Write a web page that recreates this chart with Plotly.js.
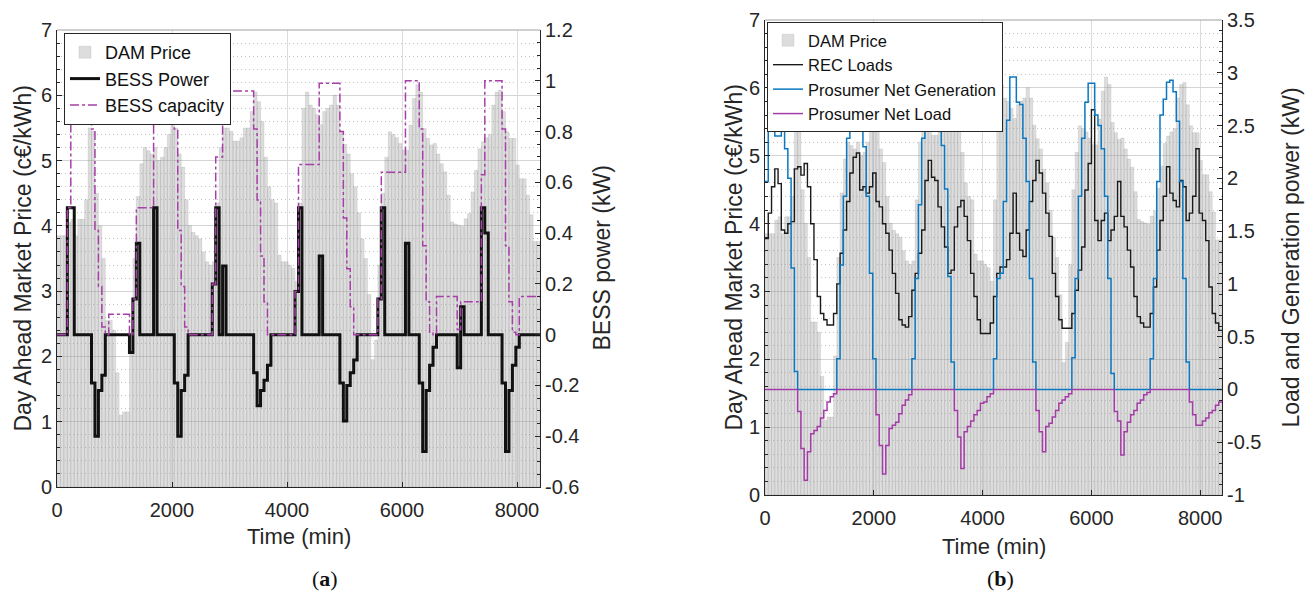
<!DOCTYPE html>
<html>
<head>
<meta charset="utf-8">
<script src="https://cdn.plot.ly/plotly-3.0.1.min.js"></script>
<style>html,body{margin:0;padding:0;background:#fff;}#chart{width:1305px;height:596px;}</style>
</head>
<body>
<div id="chart"></div>
<script>
// ---------------- DATA (hourly, 140 h = 8400 min) ----------------
// Day Ahead Market price, c€/kWh
const priceCents = [
  3.85,3.85,3.85,4.05,4.1,3.85,4.1,4.1,4.4,5.5,5.45,4.5,4.0,3.5,2.55,2.55,2.4,1.75,1.1,1.15,1.15,2.05,3.5,4.45,
  4.95,5.2,5.15,5.1,5.2,5.0,5.05,5.2,5.4,5.7,5.5,5.1,4.9,4.4,4.0,3.9,3.85,3.8,3.6,3.45,3.4,3.45,4.35,5.2,
  5.5,5.5,5.45,5.3,5.3,5.35,5.5,5.5,5.75,6.05,5.9,5.6,5.05,4.6,4.4,4.35,3.55,3.45,3.45,3.4,3.35,3.15,4.35,5.8,
  6.05,5.85,5.8,5.7,5.55,5.75,5.8,5.85,6.0,5.85,5.45,5.25,5.1,4.8,4.6,4.2,3.8,3.5,2.95,1.95,2.25,3.4,4.5,5.05,
  5.44,5.4,5.35,5.26,5.16,5.16,5.54,5.95,6.16,6.05,5.49,5.34,5.24,5.26,5.1,4.95,4.83,4.47,4.06,4.03,4.01,3.99,4.11,4.19,
  4.52,4.85,5.18,5.29,5.35,5.4,5.85,6.05,6.08,5.75,5.44,5.34,5.34,4.93,4.72,4.72,4.47,4.17,3.76,3.76
];
// BESS power, kW
const bessPower = [
  0,0,0,0.5,0.5,0,0,0,0,0,-0.19,-0.40,-0.22,-0.16,0,0,0,0,0,0,0,-0.07,0.14,0.36,
  0,0,0,0,0.5,0,0,0,0,0,-0.19,-0.40,-0.22,-0.16,0,0,0,0,0,0,0,0.2,0.5,0,
  0.27,0,0,0,0,0,0,0,0,-0.15,-0.28,-0.22,-0.18,-0.12,0,0,0,0,0,0,0,0.17,0.5,0,
  0,0,0,0,0.31,0,0,0,0,0,-0.19,-0.34,-0.2,-0.15,-0.1,0,0,0,0,0,0,0.14,0.5,0,0,
  0,0,0,0,0.36,0,0,0,-0.19,-0.46,-0.22,-0.12,-0.05,0,0,0,0,0,0,-0.13,0.11,0,0,
  0,0,0,0.5,0.4,0,0,0,0,-0.19,-0.46,-0.22,-0.12,-0.05,0,0,0,0,0,0
];
// BESS capacity (stored energy), on the BESS axis
const bessCapacity = [
  0,0,0,0.5,1.0,1.0,1.0,1.0,1.0,1.0,0.81,0.41,0.19,0.03,0,0.08,0.08,0.08,0.08,0.08,0.08,0,0.14,0.5,
  0.5,0.5,0.5,0.5,1.0,1.0,1.0,1.0,1.0,1.0,0.81,0.41,0.19,0.03,0,0,0,0,0,0,0,0.2,0.7,0.7,
  0.96,0.96,0.96,0.96,0.96,0.96,0.96,0.96,0.96,0.81,0.53,0.31,0.13,0,0,0,0,0,0,0,0,0.17,0.67,0.67,
  0.67,0.67,0.67,0.67,0.99,0.99,0.99,0.99,0.99,0.99,0.8,0.46,0.26,0.11,0,0,0,0,0,0,0,0.14,0.64,0.64,
  0.64,0.64,0.64,0.64,0.64,1.0,1.0,1.0,1.0,0.81,0.35,0.13,0.01,0,0.15,0.15,0.15,0.15,0.15,0.15,0.02,0.13,0.13,0.13,
  0.13,0.13,0.13,0.63,1.0,1.0,1.0,1.0,1.0,0.81,0.35,0.13,0.01,0,0.15,0.15,0.15,0.15,0.15,0.15
];
// REC loads, kW
const recLoads = [
  1.43,1.67,1.92,2.09,1.95,1.51,1.48,1.57,1.59,2.09,2.11,2.03,2.14,1.92,1.57,1.23,0.88,0.72,0.66,0.61,0.61,0.72,1.0,1.29,
  1.51,1.78,2.05,2.2,2.24,1.89,1.92,1.86,1.92,2.05,1.78,1.73,1.57,1.48,1.32,1.1,0.91,0.66,0.61,0.59,0.69,0.94,1.1,1.29,
  1.51,1.98,2.17,2.01,1.98,1.73,1.54,1.35,1.1,1.13,1.54,1.73,1.79,1.64,1.41,1.1,0.88,0.66,0.53,0.53,0.53,0.63,0.88,1.1,
  1.16,1.16,1.23,1.48,1.86,1.48,1.32,1.26,1.51,1.78,1.98,2.17,2.05,1.86,1.67,1.45,1.1,0.88,0.66,0.58,0.58,0.58,0.72,0.94,
  1.13,1.35,1.89,2.14,2.65,1.6,1.41,1.6,1.67,1.41,1.51,1.64,1.97,1.64,1.54,1.32,1.16,0.88,0.69,0.63,0.59,0.59,0.72,0.97,
  1.32,1.6,1.83,2.11,1.86,1.79,1.73,1.98,1.92,1.6,1.67,1.83,2.28,1.67,1.6,1.41,0.97,0.72,0.63,0.56
];
// Prosumer net generation, kW
const netGeneration = [
  1.97,2.7,2.7,2.4,2.4,2.55,2.28,2.0,1.15,0.17,0,0,0,0,0,0,0,0,0,0,0,0,0.29,1.18,
  1.83,2.38,2.75,2.85,2.75,2.6,2.3,1.83,1.1,0.29,0,0,0,0,0,0,0,0,0,0,0,0.29,1.05,1.75,
  2.38,2.75,2.85,2.9,2.85,2.7,2.31,1.9,1.07,0.26,0,0,0,0,0,0,0,0,0,0,0,0,0.29,1.05,
  1.1,1.78,2.55,2.96,2.96,2.72,2.7,2.38,1.97,1.05,0.26,0,0,0,0,0,0,0,0,0,0,0,0.3,1.05,
  1.83,2.38,2.72,2.9,2.9,2.6,2.5,2.28,1.83,1.05,0.15,0,0,0,0,0,0,0,0,0,0,0,0.29,1.05,
  1.97,2.6,2.75,2.91,2.93,2.82,2.54,1.97,1.05,0.26,0,0,0,0,0,0,0,0,0,0
];
// Prosumer net load, kW
const netLoad = [
  0,0,0,0,0,0,0,0,0,0,-0.21,-0.56,-0.86,-0.59,-0.42,-0.39,-0.35,-0.27,-0.2,-0.12,-0.07,-0.04,0,0,
  0,0,0,0,0,0,0,0,0,0,-0.24,-0.53,-0.8,-0.53,-0.37,-0.34,-0.31,-0.23,-0.15,-0.1,-0.05,0,0,0,
  0,0,0,0,0,0,0,0,0,0,-0.2,-0.45,-0.75,-0.4,-0.35,-0.3,-0.24,-0.2,-0.13,-0.12,-0.07,-0.04,0,0,
  0,0,0,0,0,0,0,0,0,0,0,-0.2,-0.4,-0.59,-0.35,-0.32,-0.26,-0.2,-0.13,-0.1,-0.07,-0.04,0,0,
  0,0,0,0,0,0,0,0,0,0,0,-0.21,-0.3,-0.62,-0.4,-0.31,-0.24,-0.2,-0.13,-0.1,-0.05,-0.03,0,0,
  0,0,0,0,0,0,0,0,0,0,-0.12,-0.24,-0.34,-0.34,-0.3,-0.27,-0.22,-0.2,-0.15,-0.12
];
// tick values / labels
const timeTicks = [0, 2000, 4000, 6000, 8000];
const priceTicks = [0, 1, 2, 3, 4, 5, 6, 7];
const bessTickVals = [-0.6, -0.4, -0.2, 0, 0.2, 0.4, 0.6, 0.8, 1, 1.2];
const bessTickText = ['-0.6', '-0.4', '-0.2', '0', '0.2', '0.4', '0.6', '0.8', '1', '1.2'];
const powerTickVals = [-1, -0.5, 0, 0.5, 1, 1.5, 2, 2.5, 3, 3.5];
const powerTickText = ['-1', '-0.5', '0', '0.5', '1', '1.5', '2', '2.5', '3', '3.5'];

// ---------------- BUILD ----------------
const W = 1305, H = 596;
const fx = p => p / W;
const fy = p => 1 - p / H;
const step = 60;
const timeMin = priceCents.map((_, i) => i * step);
const barX = timeMin.map(t => t + step / 2);
const stepT = timeMin.concat([timeMin.length * step]);
const stepY = arr => arr.concat([arr[arr.length - 1]]);
const FONT = '"Liberation Sans", Arial, Helvetica, sans-serif';
const TXT = '#262626';

const barStyle = {
  type: 'bar', width: step, name: 'DAM Price',
  marker: { color: 'rgba(160,160,160,0.36)', line: { color: 'rgba(120,120,120,0.3)', width: 0.5 } },
  hoverinfo: 'skip'
};

const traces = [
  Object.assign({}, barStyle, { x: barX, y: priceCents, xaxis: 'x', yaxis: 'y', legend: 'legend' }),
  { type: 'scatter', mode: 'lines', name: 'BESS Power', x: stepT, y: stepY(bessPower), xaxis: 'x', yaxis: 'y2',
    line: { shape: 'hv', color: '#111111', width: 3 }, legend: 'legend' },
  { type: 'scatter', mode: 'lines', name: 'BESS capacity', x: stepT, y: stepY(bessCapacity), xaxis: 'x', yaxis: 'y2',
    line: { shape: 'hv', color: '#a63fa8', width: 1.5, dash: 'dashdot' }, legend: 'legend' },

  Object.assign({}, barStyle, { x: barX, y: priceCents, xaxis: 'x2', yaxis: 'y3', legend: 'legend2' }),
  { type: 'scatter', mode: 'lines', name: 'REC Loads', x: stepT, y: stepY(recLoads), xaxis: 'x2', yaxis: 'y4',
    line: { shape: 'hv', color: '#1a1a1a', width: 1.4 }, legend: 'legend2' },
  { type: 'scatter', mode: 'lines', name: 'Prosumer Net Generation', x: stepT, y: stepY(netGeneration), xaxis: 'x2', yaxis: 'y4',
    line: { shape: 'hv', color: '#0a78c2', width: 1.5 }, legend: 'legend2' },
  { type: 'scatter', mode: 'lines', name: 'Prosumer Net Load', x: stepT, y: stepY(netLoad), xaxis: 'x2', yaxis: 'y4',
    line: { shape: 'hv', color: '#a43ca8', width: 1.5 }, legend: 'legend2' }
];

const tickFont = { family: FONT, size: 20, color: TXT };
function xAxis(domain, anchor) {
  return { domain, anchor, range: [0, 8400], tickmode: 'array', tickvals: timeTicks,
    ticks: 'inside', ticklen: 5, tickcolor: TXT, showline: true, linecolor: TXT, linewidth: 1,
    showgrid: true, gridcolor: '#dcdcdc', gridwidth: 1, zeroline: false, tickfont: tickFont, automargin: false,
    ticklabelstandoff: 5 };
}
function leftAxis(domain, anchor) {
  return { domain, anchor, range: [0, 7], tickmode: 'array', tickvals: priceTicks,
    ticks: 'inside', ticklen: 5, tickcolor: TXT, showline: true, linecolor: TXT, linewidth: 1,
    showgrid: true, gridcolor: '#d4d4d4', zeroline: false, tickfont: tickFont, automargin: false,
    minor: { tickmode: 'linear', tick0: 0, dtick: 0.2, ticks: 'inside', ticklen: 3, tickcolor: TXT,
             showgrid: true, gridcolor: '#c2c2c2', griddash: '1px,3px', gridwidth: 1 } };
}
function rightAxis(overlay, anchor, range, vals, text, minorDt) {
  return { overlaying: overlay, anchor, side: 'right', range, tickmode: 'array', tickvals: vals, ticktext: text,
    ticks: 'inside', ticklen: 5, tickcolor: TXT, showline: true, linecolor: TXT, linewidth: 1,
    showgrid: false, zeroline: false, tickfont: tickFont, automargin: false,
    minor: { tickmode: 'linear', tick0: 0, dtick: minorDt, ticks: 'inside', ticklen: 3, tickcolor: TXT, showgrid: false } };
}

const A = { l: 57, r: 540, t: 30, b: 487 };
const B = { l: 765, r: 1222, t: 20, b: 495 };

const titleFont = { family: FONT, size: 23, color: TXT };
const xTitleFont = { family: FONT, size: 22, color: TXT };
const labelFont = { family: '"Liberation Serif", "Times New Roman", serif', size: 22, color: '#111' };
const layout = {
  width: W, height: H, margin: { l: 0, r: 0, t: 0, b: 0 },
  paper_bgcolor: '#ffffff', plot_bgcolor: '#ffffff',
  font: { family: FONT, size: 20, color: TXT },
  bargap: 0.12, showlegend: true,
  xaxis: xAxis([fx(A.l), fx(A.r)], 'y'),
  yaxis: leftAxis([fy(A.b), fy(A.t)], 'x'),
  yaxis2: rightAxis('y', 'x', [-0.6, 1.2], bessTickVals, bessTickText, 0.05),
  xaxis2: xAxis([fx(B.l), fx(B.r)], 'y3'),
  yaxis3: leftAxis([fy(B.b), fy(B.t)], 'x2'),
  yaxis4: rightAxis('y3', 'x2', [-1, 3.5], powerTickVals, powerTickText, 0.1),
  legend: { x: fx(64), y: fy(33), xanchor: 'left', yanchor: 'top', bgcolor: '#ffffff',
    bordercolor: '#262626', borderwidth: 1, font: { family: FONT, size: 18, color: '#111' },
    tracegroupgap: 0, itemwidth: 30 },
  legend2: { x: fx(767), y: fy(22), xanchor: 'left', yanchor: 'top', bgcolor: '#ffffff',
    bordercolor: '#262626', borderwidth: 1, font: { family: FONT, size: 16.5, color: '#111' },
    tracegroupgap: 0, itemwidth: 30 },
  shapes: [
    { type: 'line', xref: 'paper', yref: 'paper', x0: fx(A.l), x1: fx(A.r), y0: fy(A.t), y1: fy(A.t), line: { color: '#a0a0a0', width: 1 } },
    { type: 'line', xref: 'paper', yref: 'paper', x0: fx(B.l), x1: fx(B.r), y0: fy(B.t), y1: fy(B.t), line: { color: '#a0a0a0', width: 1 } }
  ],
  annotations: [
    { text: 'Day Ahead Market Price (c€/kWh)', xref: 'paper', yref: 'paper', x: fx(22), y: fy((A.t + A.b) / 2), textangle: -90, showarrow: false, xanchor: 'center', yanchor: 'middle', font: titleFont },
    { text: 'BESS power (kW)', xref: 'paper', yref: 'paper', x: fx(601), y: fy((A.t + A.b) / 2), textangle: -90, showarrow: false, xanchor: 'center', yanchor: 'middle', font: titleFont },
    { text: 'Time (min)', xref: 'paper', yref: 'paper', x: fx((A.l + A.r) / 2), y: fy(536), showarrow: false, xanchor: 'center', yanchor: 'middle', font: xTitleFont },
    { text: '(<b>a</b>)', xref: 'paper', yref: 'paper', x: fx(325), y: fy(578), showarrow: false, xanchor: 'center', yanchor: 'middle', font: labelFont },
    { text: 'Day Ahead Market Price (c€/kWh)', xref: 'paper', yref: 'paper', x: fx(733), y: fy((B.t + B.b) / 2), textangle: -90, showarrow: false, xanchor: 'center', yanchor: 'middle', font: titleFont },
    { text: 'Load and Generation power (kW)', xref: 'paper', yref: 'paper', x: fx(1290), y: fy((B.t + B.b) / 2), textangle: -90, showarrow: false, xanchor: 'center', yanchor: 'middle', font: titleFont },
    { text: 'Time (min)', xref: 'paper', yref: 'paper', x: fx((B.l + B.r) / 2), y: fy(546), showarrow: false, xanchor: 'center', yanchor: 'middle', font: xTitleFont },
    { text: '(<b>b</b>)', xref: 'paper', yref: 'paper', x: fx(1000), y: fy(578), showarrow: false, xanchor: 'center', yanchor: 'middle', font: labelFont }
  ]
};

Plotly.newPlot('chart', traces, layout, { staticPlot: true, displayModeBar: false });
</script>
</body>
</html>
